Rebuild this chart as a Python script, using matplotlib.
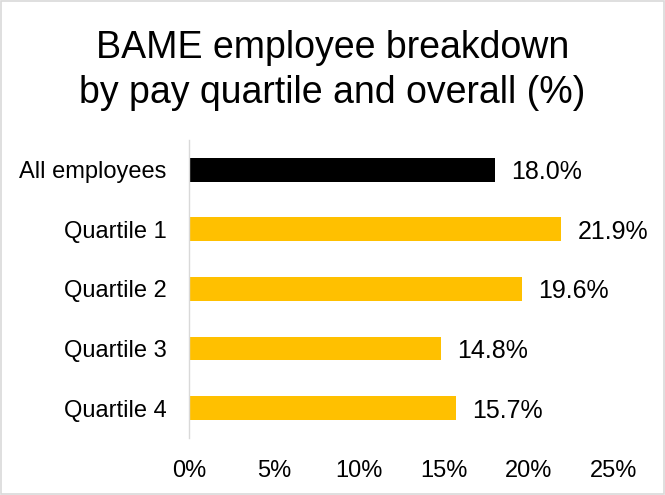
import matplotlib.pyplot as plt
from matplotlib.patches import Rectangle

plt.rcParams["font.family"] = ["Liberation Sans", "DejaVu Sans"]

categories = ["All employees", "Quartile 1", "Quartile 2", "Quartile 3", "Quartile 4"]
values = [18.0, 21.9, 19.6, 14.8, 15.7]
colors = ["#000000", "#FFC000", "#FFC000", "#FFC000", "#FFC000"]
xticks = [0, 5, 10, 15, 20, 25]

fig = plt.figure(figsize=(6.65, 4.95), dpi=100)
ax = fig.add_axes([0.2842, 0.1152, 0.6391, 0.6020])

y = list(range(len(categories)))
ax.barh(y, values, height=0.4, color=colors)
for yi, v in zip(y, values):
    ax.text(v + 0.95, yi + 0.04, f"{v:.1f}%", va="center", ha="left", fontsize=18)

ax.set_xlim(0, 25)
ax.set_ylim(4.5, -0.5)
ax.set_yticks(y)
ax.set_yticklabels(categories, fontsize=17)
ax.set_xticks(xticks)
ax.set_xticklabels([f"{t}%" for t in xticks], fontsize=17)
ax.tick_params(axis="both", length=0)
ax.tick_params(axis="x", pad=16)
ax.tick_params(axis="y", pad=16)
for s in ["top", "right", "bottom"]:
    ax.spines[s].set_visible(False)
ax.spines["left"].set_color("#d9d9d9")
ax.spines["left"].set_linewidth(1.0)

fig.text(0.5, 0.857, "BAME employee breakdown\nby pay quartile and overall (%)",
         ha="center", va="center", fontsize=27, linespacing=1.32)

fig.patches.append(Rectangle((0.002, 0.002), 0.996, 0.996, transform=fig.transFigure,
                             fill=False, edgecolor="#d9d9d9", linewidth=1.2))

fig.savefig("out.png", dpi=100)
